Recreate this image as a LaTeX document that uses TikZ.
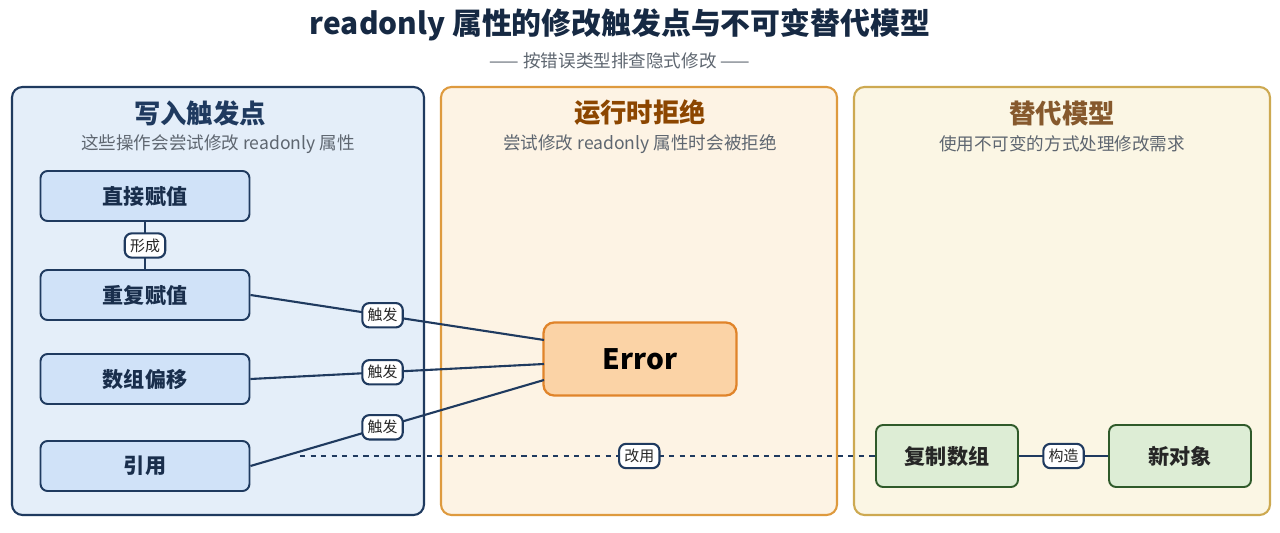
\documentclass[tikz,border=0pt]{standalone}
\usepackage{fontspec}
\setmainfont{Noto Sans CJK SC}
\usetikzlibrary{positioning}
\definecolor{navy}{HTML}{1F3A5F}
\definecolor{bluefill}{HTML}{E4EEF9}
\definecolor{boxblue}{HTML}{D0E2F8}
\definecolor{orangeline}{HTML}{DE9A3E}
\definecolor{orangefill}{HTML}{FDF3E4}
\definecolor{errfill}{HTML}{FBD3A6}
\definecolor{errline}{HTML}{E0842A}
\definecolor{goldline}{HTML}{CDA951}
\definecolor{goldfill}{HTML}{FBF6E4}
\definecolor{greenfill}{HTML}{DDEDD5}
\definecolor{greenline}{HTML}{2F5A2A}
\definecolor{subgray}{HTML}{5E6670}
\begin{document}
\begin{tikzpicture}[x=0.02cm,y=-0.02cm,
panel/.style={draw, line width=1.2pt, rounded corners=6pt},
ptitle/.style={font=\fontsize{15}{17}\selectfont\bfseries},
psub/.style={text=subgray, font=\fontsize{10}{12}\selectfont},
writebox/.style={draw=navy, fill=boxblue, line width=1.1pt, rounded corners=4pt,
  minimum width=4.18cm, minimum height=1cm, font=\fontsize{12}{14}\selectfont\bfseries, text=navy!80!black},
altbox/.style={draw=greenline, fill=greenfill, line width=1.1pt, rounded corners=4pt,
  minimum width=2.84cm, minimum height=1.24cm, font=\fontsize{12}{14}\selectfont\bfseries, text=black!85},
tag/.style={draw=navy, solid, fill=white, rounded corners=4pt, inner sep=3pt,
  font=\fontsize{8.5}{10}\selectfont, text=black!85},
link/.style={draw=navy, line width=1.2pt}]
\useasboundingbox (0,0) rectangle (1280,533);
\fill[white] (0,0) rectangle (1280,533);

% headings
\node[font=\fontsize{17}{19}\selectfont\bfseries, text=navy!70!black] (title) at (620,25) {readonly 属性的修改触发点与不可变替代模型};
\node[psub, font=\fontsize{10}{12}\selectfont] (subtitle) at (620,61) {—— 按错误类型排查隐式修改 ——};

% panels
\draw[panel, draw=navy, fill=bluefill] (12,87) rectangle (424,515);
\draw[panel, draw=orangeline, fill=orangefill] (441,87) rectangle (837,515);
\draw[panel, draw=goldline, fill=goldfill] (854,87) rectangle (1270,515);

\node[ptitle, text=navy] (t1) at (200,113) {写入触发点};
\node[psub] (s1) at (218,144) {这些操作会尝试修改 readonly 属性};
\node[ptitle, text=orange!55!black] (t2) at (640,113) {运行时拒绝};
\node[psub] (s2) at (640,144) {尝试修改 readonly 属性时会被拒绝};
\node[ptitle, text=brown!70!black] (t3) at (1062,113) {替代模型};
\node[psub] (s3) at (1062,144) {使用不可变的方式处理修改需求};

% write points
\node[writebox] (assign) at (145,196) {直接赋值};
\node[writebox] (reassign) at (145,295) {重复赋值};
\node[writebox] (offset) at (145,379) {数组偏移};
\node[writebox] (ref) at (145,466) {引用};

\node[draw=errline, fill=errfill, line width=1.3pt, rounded corners=6pt,
  minimum width=3.86cm, minimum height=1.46cm,
  font=\fontsize{16}{18}\selectfont\bfseries] (err) at (640,359) {Error};

\node[altbox] (copy) at (947,456) {复制数组};
\node[altbox] (newobj) at (1180,456) {新对象};

\coordinate (e1) at (544,340);
\coordinate (e2) at (544,364);
\coordinate (e3) at (544,380);
\coordinate (d0) at (300,456);

\draw[link] (assign) -- node[tag] {形成} (reassign);
\draw[link] (reassign.east) -- node[tag, pos=0.45] {触发} (e1);
\draw[link] (offset.east) -- node[tag, pos=0.45] {触发} (e2);
\draw[link] (ref.east) -- node[tag, pos=0.45] {触发} (e3);
\draw[link, dashed] (d0) -- node[tag, pos=0.59] {改用} (copy.west);
\draw[link] (copy) -- node[tag] {构造} (newobj);
\end{tikzpicture}
\end{document}
